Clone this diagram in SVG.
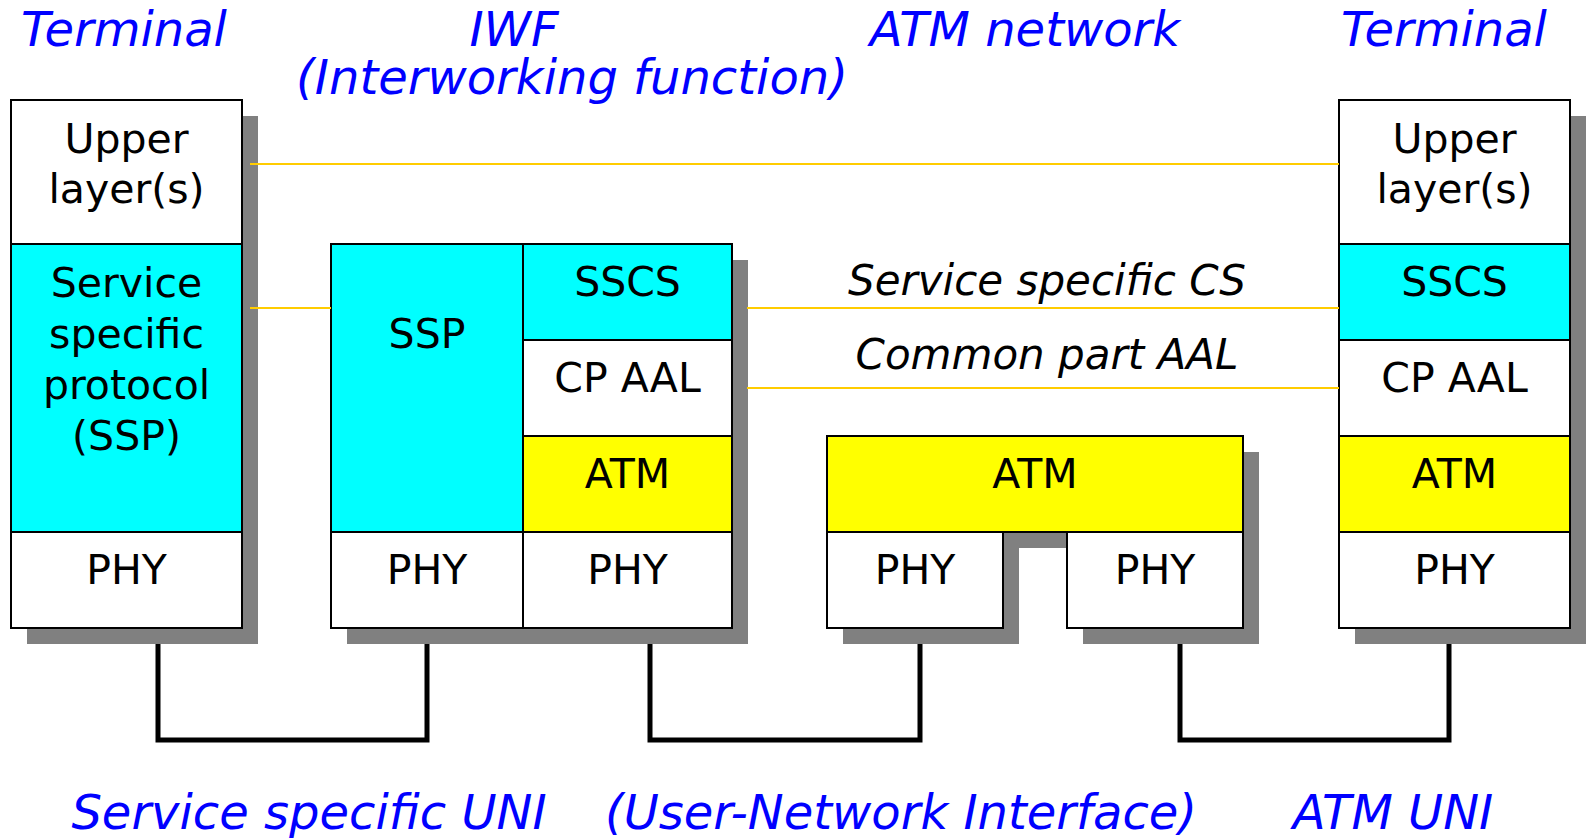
<svg xmlns="http://www.w3.org/2000/svg" width="1589" height="838" viewBox="0 0 1589 838">
  <style>
    .box { stroke: #000; stroke-width: 2; }
    .white { fill: #fff; }
    .cyan { fill: #00ffff; }
    .yellow { fill: #ffff00; }
    .shadow { fill: #808080; }
    .lbl { font-family: "DejaVu Sans", Verdana, sans-serif; font-size: 41px; fill: #000; text-anchor: middle; }
    .title { font-family: "DejaVu Sans", Verdana, sans-serif; font-size: 48px; font-style: italic; fill: #0000ff; text-anchor: middle; }
    .peer { font-family: "DejaVu Sans", Verdana, sans-serif; font-size: 42px; font-style: italic; fill: #000; text-anchor: middle; }
    .peerline { stroke: #ffcc00; stroke-width: 2; fill: none; }
    .link { stroke: #000; stroke-width: 5; fill: none; stroke-linejoin: miter; }
  </style>

  <rect width="1589" height="838" fill="#fff"/>

  <!-- headings -->
  <g id="headings">
    <text class="title" x="124" y="46">Terminal</text>
    <text class="title" x="514" y="46">IWF</text>
    <text class="title" x="572" y="94">(Interworking function)</text>
    <text class="title" x="1025" y="46">ATM network</text>
    <text class="title" x="1444" y="46">Terminal</text>
  </g>

  <!-- left terminal stack -->
  <g id="terminal-left">
    <rect class="shadow" x="27" y="116" width="231" height="528"/>
    <rect class="box white" x="11" y="100" width="231" height="144"/>
    <rect class="box cyan" x="11" y="244" width="231" height="288"/>
    <rect class="box white" x="11" y="532" width="231" height="96"/>
    <text class="lbl" x="126.5" y="153">Upper</text>
    <text class="lbl" x="126.5" y="203">layer(s)</text>
    <text class="lbl" x="126.5" y="297">Service</text>
    <text class="lbl" x="126.5" y="348">specific</text>
    <text class="lbl" x="126.5" y="399">protocol</text>
    <text class="lbl" x="126.5" y="450">(SSP)</text>
    <text class="lbl" x="126.5" y="584">PHY</text>
  </g>

  <!-- interworking function stack -->
  <g id="iwf">
    <rect class="shadow" x="347" y="260" width="401" height="384"/>
    <rect class="box cyan" x="331" y="244" width="192" height="288"/>
    <rect class="box white" x="331" y="532" width="192" height="96"/>
    <rect class="box cyan" x="523" y="244" width="209" height="96"/>
    <rect class="box white" x="523" y="340" width="209" height="96"/>
    <rect class="box yellow" x="523" y="436" width="209" height="96"/>
    <rect class="box white" x="523" y="532" width="209" height="96"/>
    <text class="lbl" x="427" y="348">SSP</text>
    <text class="lbl" x="427" y="584">PHY</text>
    <text class="lbl" x="627.5" y="296">SSCS</text>
    <text class="lbl" x="627.5" y="392">CP AAL</text>
    <text class="lbl" x="627.5" y="488">ATM</text>
    <text class="lbl" x="627.5" y="584">PHY</text>
  </g>

  <!-- ATM network switch -->
  <g id="atm-network">
    <rect class="shadow" x="843" y="452" width="416" height="96"/>
    <rect class="shadow" x="843" y="548" width="176" height="96"/>
    <rect class="shadow" x="1083" y="548" width="176" height="96"/>
    <rect class="box yellow" x="827" y="436" width="416" height="96"/>
    <rect class="box white" x="827" y="532" width="176" height="96"/>
    <rect class="box white" x="1067" y="532" width="176" height="96"/>
    <text class="lbl" x="1035" y="488">ATM</text>
    <text class="lbl" x="915" y="584">PHY</text>
    <text class="lbl" x="1155" y="584">PHY</text>
  </g>

  <!-- right terminal stack -->
  <g id="terminal-right">
    <rect class="shadow" x="1355" y="116" width="231" height="528"/>
    <rect class="box white" x="1339" y="100" width="231" height="144"/>
    <rect class="box cyan" x="1339" y="244" width="231" height="96"/>
    <rect class="box white" x="1339" y="340" width="231" height="96"/>
    <rect class="box yellow" x="1339" y="436" width="231" height="96"/>
    <rect class="box white" x="1339" y="532" width="231" height="96"/>
    <text class="lbl" x="1454.5" y="153">Upper</text>
    <text class="lbl" x="1454.5" y="203">layer(s)</text>
    <text class="lbl" x="1454.5" y="296">SSCS</text>
    <text class="lbl" x="1454.5" y="392">CP AAL</text>
    <text class="lbl" x="1454.5" y="488">ATM</text>
    <text class="lbl" x="1454.5" y="584">PHY</text>
  </g>

  <!-- peer relations and physical links -->
  <g id="connectors">
    <line class="peerline" x1="250" y1="164" x2="1339" y2="164"/>
    <line class="peerline" x1="250" y1="308" x2="331" y2="308"/>
    <line class="peerline" x1="747" y1="308" x2="1339" y2="308"/>
    <line class="peerline" x1="747" y1="388" x2="1339" y2="388"/>
    <text class="peer" x="1047" y="295">Service specific CS</text>
    <text class="peer" x="1047" y="369">Common part AAL</text>
    <path class="link" d="M158 644 V740 H427 V644"/>
    <path class="link" d="M650 644 V740 H920 V644"/>
    <path class="link" d="M1180 644 V740 H1449 V644"/>
  </g>

  <!-- interface names -->
  <g id="interfaces">
    <text class="title" x="309" y="829">Service specific UNI</text>
    <text class="title" x="901" y="829">(User-Network Interface)</text>
    <text class="title" x="1393" y="829">ATM UNI</text>
  </g>
</svg>
